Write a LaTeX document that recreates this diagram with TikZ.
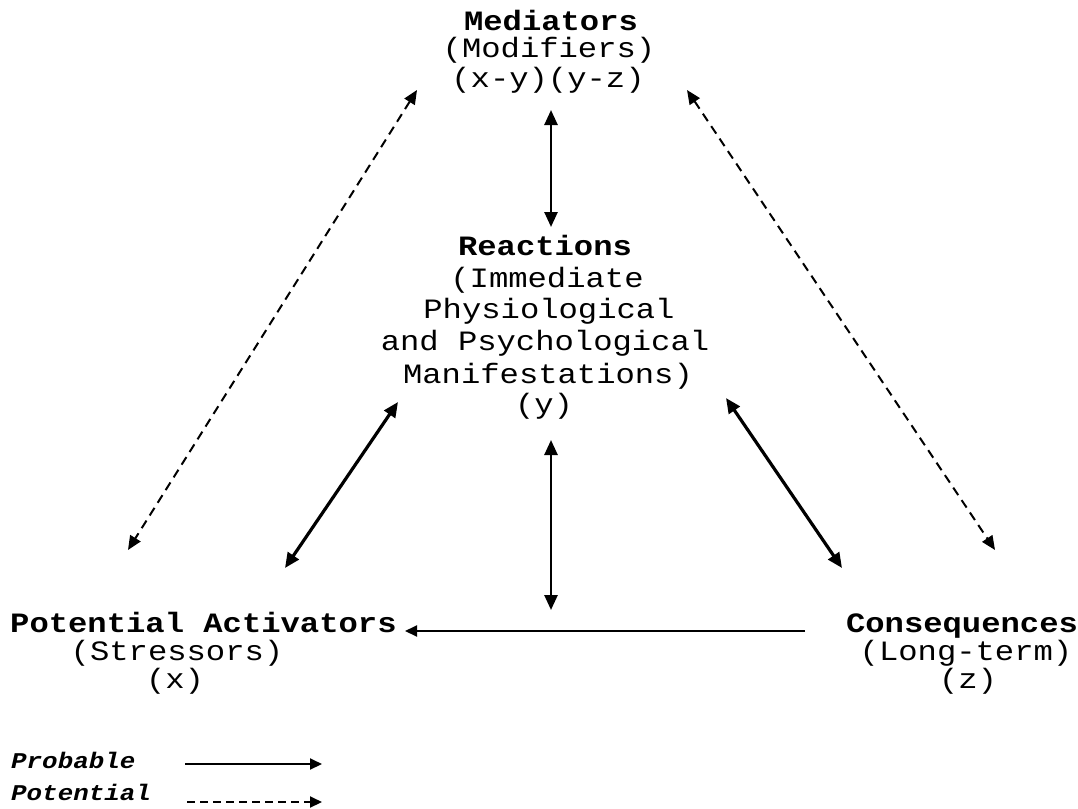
\documentclass[tikz,border=0pt]{standalone}
\usepackage{fontspec}
\newfontfamily\cour[FakeStretch=1.15]{Liberation Mono}
\usetikzlibrary{arrows.meta}
\begin{document}
\begin{tikzpicture}[x=1pt,y=-1pt,
  txt/.style={inner sep=0pt, anchor=base, font=\cour\fontsize{28}{28}\selectfont},
  ttl/.style={inner sep=0pt, anchor=base, font=\cour\bfseries\fontsize{28}{28}\selectfont},
  leg/.style={inner sep=0pt, anchor=base west, font=\cour\bfseries\itshape\fontsize{22.5}{23}\selectfont},
  solidarr/.style={{Triangle[length=15pt,width=13pt]}-{Triangle[length=15pt,width=13pt]}, line width=3.2pt},
  dasharr/.style={{Triangle[length=14pt,width=12pt]}-{Triangle[length=14pt,width=12pt]}, line width=2pt, dash pattern=on 9pt off 6pt},
  onearr/.style={-{Triangle[length=12pt,width=11pt]}, line width=2pt}
]
\useasboundingbox (0,0) rectangle (1078,808);

% texts
\node[ttl] (med)  at (551,31) {Mediators};
\node[txt] (med2) at (549,58) {(Modifiers)};
\node[txt] (med3) at (548,87) {(x-y)(y-z)};

\node[ttl] (rea)  at (545,255) {Reactions};
\node[txt] (rea2) at (547,287) {(Immediate};
\node[txt] (rea3) at (549,318) {Physiological};
\node[txt] (rea4) at (545,350) {and Psychological};
\node[txt] (rea5) at (548,383) {Manifestations)};
\node[txt] (rea6) at (544,413) {(y)};

\node[ttl, anchor=base west] (act) at (10,632) {Potential Activators};
\node[txt] (act2) at (177,660) {(Stressors)};
\node[txt] (act3) at (175,688) {(x)};

\node[ttl] (con)  at (962,632) {Consequences};
\node[txt] (con2) at (966,660) {(Long-term)};
\node[txt] (con3) at (968,688) {(z)};

\node[leg] (lp) at (11,768) {Probable};
\node[leg] (lq) at (11,800) {Potential};

% connector end points
\coordinate (mS) at (551,110);
\coordinate (rN) at (551,227);
\coordinate (rS) at (551,440);
\coordinate (hB) at (551,610);
\coordinate (rSW) at (398,402);
\coordinate (aNE) at (285,568);
\coordinate (rSE) at (726,398);
\coordinate (cNW) at (842,568);
\coordinate (mSW) at (417,90);
\coordinate (aN) at (128,550);
\coordinate (mSE) at (687,90);
\coordinate (cN) at (995,550);
\coordinate (cW) at (805,631);
\coordinate (aE) at (405,631);
\coordinate (lp1) at (185,764);
\coordinate (lp2) at (322,764);
\coordinate (lq1) at (187,802);
\coordinate (lq2) at (322,802);

% connectors
\draw[solidarr, line width=2.6pt] (mS) -- (rN);
\draw[solidarr, line width=2.6pt] (rS) -- (hB);
\draw[solidarr] (rSW) -- (aNE);
\draw[solidarr] (rSE) -- (cNW);
\draw[dasharr] (mSW) -- (aN);
\draw[dasharr] (mSE) -- (cN);
\draw[onearr] (cW) -- (aE);

\draw[onearr] (lp1) -- (lp2);
\draw[onearr, dash pattern=on 8pt off 5pt] (lq1) -- (lq2);
\end{tikzpicture}
\end{document}
